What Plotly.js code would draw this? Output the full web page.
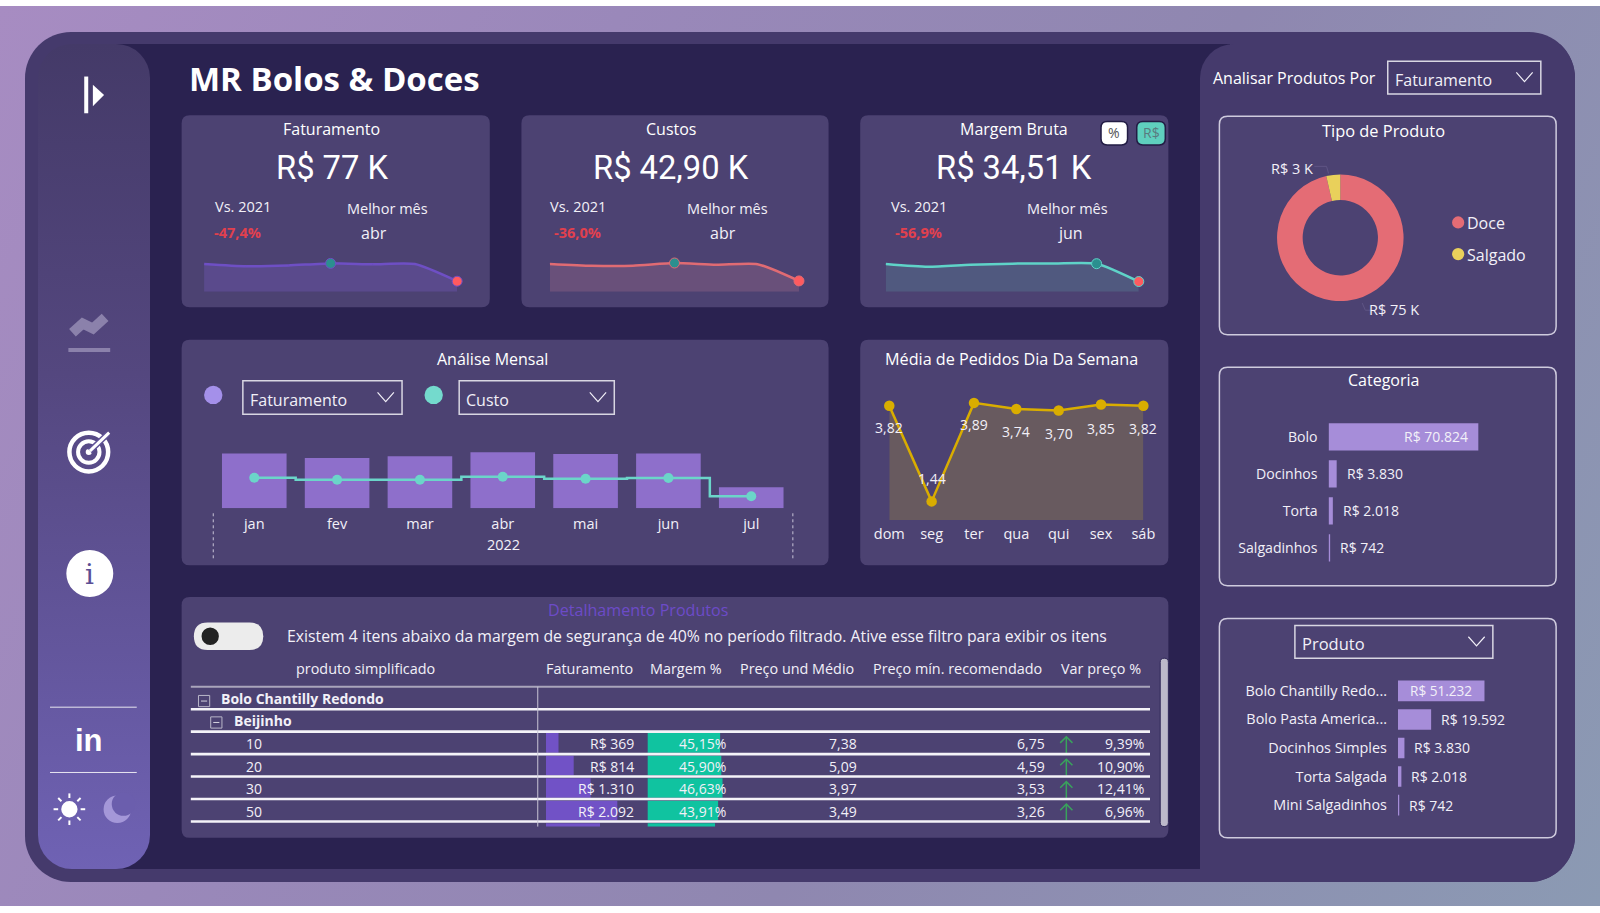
<!DOCTYPE html>
<html><head><meta charset="utf-8">
<script src="https://cdn.plot.ly/plotly-3.0.1.min.js"></script>
<style>
html,body{margin:0;padding:0;background:#fff;overflow:hidden}
#page{position:absolute;left:0;top:0;width:1600px;height:913px;overflow:hidden}
.l{position:absolute}
#bg{left:0;top:6px;width:1600px;height:900px;background:linear-gradient(118deg,#a78cc2 0%,#9a88ba 30%,#8f87b0 60%,#8b9ab3 100%)}
#frame{left:25px;top:32px;width:1550px;height:850px;border-radius:46px;background:#453a6c;overflow:hidden}
#main{left:75px;top:12px;width:1130px;height:825px;background:#2a2250}
#side{left:13px;top:12px;width:112px;height:825px;border-radius:34px;background:linear-gradient(180deg,#443a68 0%,#54477f 40%,#6f62b4 100%)}
#right{left:1175px;top:12px;width:375px;height:838px;border-radius:34px 0 0 0;background:#453a6c}
#plot{left:0;top:0;width:1600px;height:913px}
</style></head><body>
<div id="page">
<div class="l" id="bg"></div>
<div class="l" id="frame"><div class="l" id="main"></div><div class="l" id="right"></div><div class="l" id="side"></div></div>
<div class="l" id="plot"></div>
</div>
<script>
// ---------- data ----------
const months = ['jan','fev','mar','abr','mai','jun','jul'];
const faturamentoMensal = [12.3,11.3,11.7,12.6,12.2,12.3,4.7];
const custoMensal = [6.85,6.4,6.4,7.07,6.63,6.78,2.68];
const margemMensal = [5.45,4.9,5.3,5.53,5.57,5.52,2.02];
const diasSemana = ['dom','seg','ter','qua','qui','sex','sáb'];
const mediaPedidos = [3.82,1.44,3.89,3.74,3.70,3.85,3.82];
const mediaLabels = ['3,82','1,44','3,89','3,74','3,70','3,85','3,82'];
const tipoLabels = ['Doce','Salgado'];
const tipoValues = [74654,2760];
const categorias = ['Bolo','Docinhos','Torta','Salgadinhos'];
const categoriaValues = [70824,3830,2018,742];
const categoriaTexts = ['R$ 70.824','R$ 3.830','R$ 2.018','R$ 742'];
const produtos = ['Bolo Chantilly Redo...','Bolo Pasta America...','Docinhos Simples','Torta Salgada','Mini Salgadinhos'];
const produtoValues = [51232,19592,3830,2018,742];
const produtoTexts = ['R$ 51.232','R$ 19.592','R$ 3.830','R$ 2.018','R$ 742'];
const tabelaHeaders = ['produto simplificado','Faturamento','Margem %','Preço und Médio','Preço mín. recomendado','Var preço %'];
const tabelaRows = ['10','20','30','50'];
const tabelaFat = [369,814,1310,2092,1585];
const tabelaFatText = ['R$ 369','R$ 814','R$ 1.310','R$ 2.092'];
const tabelaMargem = [45.15,45.90,46.63,43.91,42.0];
const tabelaMargemText = ['45,15%','45,90%','46,63%','43,91%'];
const tabelaPreco = ['7,38','5,09','3,97','3,49'];
const tabelaMin = ['6,75','4,59','3,53','3,26'];
const tabelaVar = ['9,39%','10,90%','12,41%','6,96%'];

// ---------- helpers (coordinates on a 1568 x 894.7 design grid) ----------
const W=1568,H=894.7;
const px=x=>x/W, py=y=>1-y/H;
const dx=(a,b)=>[px(a),px(b)], dy=(top,bot)=>[py(bot),py(top)];
const FONT='"Open Sans","Noto Sans",sans-serif';
const shapes=[],ann=[];
function T(text,x,y,size,o={}){const a=o.a||'center';const off=a=='left'?-2:(a=='right'?2:0);
  ann.push({text,x:px(x+off),y:py(y),xref:'paper',yref:'paper',showarrow:false,
  xanchor:a,yanchor:'middle',font:{size,color:o.c||'#f2f0f8',family:o.f||FONT,weight:o.w||400}});}
function rr(x0,y0,x1,y1,r){const a=px(x0),b=px(x1),c=py(y0),d=py(y1),rx=r/W,ry=r/H;
  return `M${a+rx} ${c} L${b-rx} ${c} Q${b} ${c} ${b} ${c-ry} L${b} ${d+ry} Q${b} ${d} ${b-rx} ${d} L${a+rx} ${d} Q${a} ${d} ${a} ${d+ry} L${a} ${c-ry} Q${a} ${c} ${a+rx} ${c} Z`;}
function box(x0,y0,x1,y1,r,fill,lc,lw){shapes.push({type:'path',path:rr(x0,y0,x1,y1,r),xref:'paper',yref:'paper',fillcolor:fill,line:{color:lc||'rgba(0,0,0,0)',width:lw||0},layer:'below'});}
function poly(pts,lc,lw,fill,layer){shapes.push({type:'path',path:'M'+pts.map(p=>px(p[0])+' '+py(p[1])).join(' L')+(fill?' Z':''),xref:'paper',yref:'paper',
  fillcolor:fill||'rgba(0,0,0,0)',line:{color:lc||'rgba(0,0,0,0)',width:lw||0},layer:layer||'above'});}
function circ(x,y,r,fill,lc,lw){shapes.push({type:'circle',xref:'paper',yref:'paper',x0:px(x-r),x1:px(x+r),y0:py(y+r),y1:py(y-r),fillcolor:fill,line:{color:lc||'rgba(0,0,0,0)',width:lw||0},layer:'above'});}
function line(x0,y0,x1,y1,c,w,dash){shapes.push({type:'line',xref:'paper',yref:'paper',x0:px(x0),x1:px(x1),y0:py(y0),y1:py(y1),line:{color:c,width:w,dash:dash||'solid'},layer:'above'});}
function drop(x0,y0,x1,y1,label,size){shapes.push({type:'rect',xref:'paper',yref:'paper',x0:px(x0),x1:px(x1),y0:py(y1),y1:py(y0),line:{color:'#d8d6e2',width:1.5},fillcolor:'rgba(0,0,0,0)',layer:'below'});
  T(label,x0+7,(y0+y1)/2+2,size||16,{a:'left'});
  const cx=x1-16,cy=(y0+y1)/2;poly([[cx-8,cy-5],[cx,cy+4],[cx+8,cy-5]],'#f2f0f8',1.2);}

// ---------- cards ----------
const CARD='#4c4272';
[[178,113,480,301],[511,113,812,301],[843,113,1145,301],[178,333,812,554],[843,333,1145,554],[178,585,1145,821]]
  .forEach(c=>box(c[0],c[1],c[2],c[3],8,CARD));
[[1195,114,1525,328],[1195,360,1525,574],[1195,606,1525,821]].forEach(c=>box(c[0],c[1],c[2],c[3],8,CARD,'#cfcbde',1.5));

T('<b>MR Bolos &amp; Doces</b>',185,76.5,33,{a:'left',c:'#fff'});
const KF='Roboto,"Open Sans",sans-serif';
[['Faturamento','R$ 77 K','-47,4%','abr',325,325,238.5,379.5,367,233],
 ['Custos','R$ 42,90 K','-36,0%','abr',658,658,566,712.5,709,566],
 ['Margem Bruta','R$ 34,51 K','-56,9%','jun',994,994,901,1046.5,1049,900]].forEach(k=>{
  T(k[0],k[4],126.5,16,{c:'#fff',w:500});T(k[1],k[5],165,32.7,{f:KF,c:'#fff'});
  T('Vs. 2021',k[6],202,14.5);T('Melhor mês',k[7],204,14.5);
  T('<b>'+k[2]+'</b>',k[9],228,14.5,{c:'#e2404e'});
  T(k[3],k[8],228,16,{w:500});
});
T('Análise Mensal',483,351.5,16,{c:'#fff',w:500});
T('Média de Pedidos Dia Da Semana',991,351.5,16.2,{c:'#fff',w:500});
circ(209,387,9,'#a490ea');circ(425,387,9,'#74dacd');
drop(238,373,394,406,'Faturamento');drop(450,373,602,406,'Custo');
line(209,503,209,548,'#c8c4d8',1,'dot');line(777,503,777,548,'#c8c4d8',1,'dot');
T('2022',493,534,14.5);
box(1079,119,1105,142,6,'#fff','#221c44',1.5);T('%',1092,130,14,{c:'#555'});
box(1114,119,1142,142,6,'#5fcfbe','#221c44',1.5);T('R$',1128,130,14,{c:'#5a7a80'});

// right column
T('Analisar Produtos Por',1268.5,76,16,{c:'#fff',w:500});drop(1360,60,1510,92,'Faturamento');
T('Tipo de Produto',1356,127.5,16.4,{c:'#fff',w:500});T('Categoria',1356,372.5,16,{c:'#fff',w:500});
drop(1269,613,1463,645,'Produto',16.5);
T('R$ 3 K',1266,165,14.5);T('R$ 75 K',1366,303,14.5);
poly([[1288,163],[1300,163],[1302,170]],'#5f5585',1);poly([[1346,304],[1338,304],[1335,297]],'#5f5585',1);
circ(1429,218,6,'#e46c75');circ(1429,249,6,'#e9d05b');T('Doce',1438,218.5,16,{a:'left'});T('Salgado',1438,249.5,16,{a:'left'});

// table text
T('Detalhamento Produtos',625.5,598,16.1,{c:'#6c4bc8'});
box(190,610,258,637,13.5,'#ececec');circ(206,623.5,8.5,'#222');
T('Existem 4 itens abaixo da margem de segurança de 40% no período filtrado. Ative esse filtro para exibir os itens',281,623,15.8,{a:'left'});
const headX=[358,577.5,672.5,781,938.5,1078.5];
tabelaHeaders.forEach((h,i)=>T(h,headX[i],655.5,14.4));
T('<b>Bolo Chantilly Redondo</b>',217,684.5,14,{a:'left'});T('<b>Beijinho</b>',229,706.5,14,{a:'left'});
const rowY=[729,751,773,795];
tabelaRows.forEach((r,i)=>{T(r,249,rowY[i],14);T(tabelaFatText[i],621,rowY[i],14,{a:'right'});T(tabelaMargemText[i],711,rowY[i],14,{a:'right'});
 T(tabelaPreco[i],840,rowY[i],14,{a:'right'});T(tabelaMin[i],1024,rowY[i],14,{a:'right'});T(tabelaVar[i],1121,rowY[i],14,{a:'right'});
 const a=1045,y=rowY[i];poly([[a,y+9],[a,y-7]],'#39a35c',1.5);poly([[a-6,y-1],[a,y-7],[a+6,y-1]],'#39a35c',1.5);});
line(187,673,1127,673,'#a9a5bb',2);
[695,717,739,761,783,805].forEach(y=>line(187,y,1127,y,'#f4f3f8',2.6));
line(527,673,527,810,'#c8c5d6',1);
[[200,687],[212,708]].forEach(p=>{shapes.push({type:'rect',xref:'paper',yref:'paper',x0:px(p[0]-5.5),x1:px(p[0]+5.5),y0:py(p[1]+5.5),y1:py(p[1]-5.5),line:{color:'#b9b6c8',width:1},fillcolor:'rgba(0,0,0,0)',layer:'above'});line(p[0]-3,p[1],p[0]+3,p[1],'#d5d3e0',1);});
box(1137,645,1145,810,4,'#bcb9ca','#2f2757',1);

// sidebar icons
line(84.5,75,84.5,111,'#fff',4);poly([[91,83],[102,93],[91,104]],'#fff',0,'#fff');
poly([[71,326],[81,317],[91,322],[103,311]],'#8b81ab',10);line(67,343,108,343,'#8b81ab',4);
circ(87,443,19,'rgba(0,0,0,0)','#fff',4.5);circ(87,443,10.5,'rgba(0,0,0,0)','#fff',4);circ(87,443,3,'#fff');
line(88,442,106,425,'#5f5296',6);line(88,442,107,424,'#fff',3);
circ(88,562,23,'#fff');T('i',88,563,28,{c:'#5b4e95',f:'"DejaVu Serif",serif'});
line(49,693,134,693,'#e8e6f0',1);line(49,757,134,757,'#e8e6f0',1);
T('<b>in</b>',87,726,31,{c:'#fff',f:'"Liberation Sans",sans-serif'});
circ(68,793,8,'#fff');
[0,45,90,135,180,225,270,315].forEach(d=>{const r=d*Math.PI/180,c=Math.cos(r),s=Math.sin(r);line(68+11*c,793+11*s,68+15.5*c,793+15.5*s,'#fff',2);});
circ(115,793,13.5,'#a497d8');circ(121,788,11.5,'#6b5ead');

// ---------- traces ----------
const axHide={visible:false,showgrid:false,zeroline:false,fixedrange:true};
const sparkStyle=(color,fill,x,y)=>({type:'scatter',mode:'lines+markers',x:months,y:null,xaxis:x,yaxis:y,fill:'tozeroy',fillcolor:fill,cliponaxis:false,
  line:{color,width:2.5,shape:'spline',smoothing:0.6},marker:{size:null,color:null,opacity:1}});
function spark(vals,color,fill,x,y,best){const t=sparkStyle(color,fill,x,y);t.y=vals;
  t.marker.size=vals.map((v,i)=>(i==best||i==vals.length-1)?10:0.1);
  t.marker.color=vals.map((v,i)=>i==best?'#2b8f8f':(i==vals.length-1?'#ff5a5f':color));return t;}
const data=[
 spark(faturamentoMensal,'#6e4fc4','#5a4a8c','x','y',3),
 spark(custoMensal,'#e06b73','#69507a','x2','y2',3),
 spark(margemMensal,'#5fd3c8','#50597f','x3','y3',5),
 {type:'bar',x:months,y:faturamentoMensal,xaxis:'x4',yaxis:'y4',marker:{color:'#8e6fcb'},width:0.78},
 {type:'scatter',mode:'lines+markers',x:months,y:custoMensal,xaxis:'x4',yaxis:'y4',line:{color:'#6bd5c9',width:2.5,shape:'hvh'},marker:{size:10,color:'#6bd5c9'}},
 {type:'scatter',mode:'lines+markers',x:diasSemana,y:mediaPedidos,xaxis:'x5',yaxis:'y5',fill:'tozeroy',fillcolor:'#685a5f',cliponaxis:false,line:{color:'#d9ad00',width:2.5},marker:{size:10.5,color:'#d9ad00'}},
 {type:'pie',labels:tipoLabels,values:tipoValues,hole:0.595,sort:false,direction:'clockwise',rotation:0,textinfo:'none',showlegend:false,
  marker:{colors:['#e46c75','#e9d05b'],line:{width:0}},domain:{x:dx(1251.5,1375.5),y:dy(171,295)}},
 {type:'bar',orientation:'h',y:categorias,x:categoriaValues,xaxis:'x6',yaxis:'y6',marker:{color:'#a68dd9'},width:0.74},
 {type:'bar',orientation:'h',y:produtos,x:produtoValues,xaxis:'x7',yaxis:'y7',marker:{color:'#a68dd9'},width:0.72},
 {type:'bar',orientation:'h',y:[0,1,2,3,4],x:tabelaFat,xaxis:'x8',yaxis:'y8',marker:{color:'#7152c6'},width:0.87},
 {type:'bar',orientation:'h',y:[0,1,2,3,4],x:tabelaMargem,xaxis:'x9',yaxis:'y8',marker:{color:'#10c3a0'},width:0.87},
];
mediaLabels.forEach((t,i)=>ann.push({text:t,x:diasSemana[i],y:mediaPedidos[i],xref:'x5',yref:'y5',showarrow:false,yshift:[-22,23,-22,-23,-23,-24,-23][i],xanchor:'center',yanchor:'middle',font:{size:14,color:'#f2f0f8'}}));
categoriaTexts.forEach((t,i)=>ann.push({text:t,x:categoriaValues[i],y:categorias[i],xref:'x6',yref:'y6',showarrow:false,xanchor:i==0?'right':'left',xshift:i==0?-9:8,yanchor:'middle',font:{size:14,color:'#f2f0f8'}}));
produtoTexts.forEach((t,i)=>ann.push({text:t,x:produtoValues[i],y:produtos[i],xref:'x7',yref:'y7',showarrow:false,xanchor:i==0?'right':'left',xshift:i==0?-11:8,yanchor:'middle',font:{size:i==0?13.6:14,color:'#f2f0f8'}}));

const tick=(o,s)=>Object.assign({showgrid:false,zeroline:false,showline:false,ticks:'',fixedrange:true,color:'#f2f0f8',tickfont:{size:s||14.5,color:'#f2f0f8'}},o);
const layout={
 width:1600,height:913,margin:{l:0,r:0,t:0,b:0},paper_bgcolor:'rgba(0,0,0,0)',plot_bgcolor:'rgba(0,0,0,0)',
 font:{family:FONT,color:'#f2f0f8'},showlegend:false,hovermode:false,barmode:'overlay',shapes,annotations:ann,
 xaxis:Object.assign({},axHide,{domain:dx(200,448),range:[0,6],type:'category',anchor:'y'}),
 yaxis:Object.assign({},axHide,{domain:dy(255,286),range:[0,14],anchor:'x'}),
 xaxis2:Object.assign({},axHide,{domain:dx(539,783),range:[0,6],type:'category',anchor:'y2'}),
 yaxis2:Object.assign({},axHide,{domain:dy(254,286),range:[0,8],anchor:'x2'}),
 xaxis3:Object.assign({},axHide,{domain:dx(868,1116),range:[0,6],type:'category',anchor:'y3'}),
 yaxis3:Object.assign({},axHide,{domain:dy(254,286),range:[0,6.4],anchor:'x3'}),
 xaxis4:tick({domain:dx(208.6,776.8),range:[-0.5,6.5],type:'category',anchor:'y4',ticklabelstandoff:5}),
 yaxis4:Object.assign({},axHide,{domain:dy(437,498),range:[0,14],anchor:'x4'}),
 xaxis5:tick({domain:dx(871.5,1120.5),range:[0,6],type:'category',anchor:'y5',ticklabelstandoff:3}),
 yaxis5:Object.assign({},axHide,{domain:dy(382.6,509.6),range:[0.976,4.2],anchor:'x5'}),
 xaxis6:Object.assign({},axHide,{domain:dx(1302,1449),range:[0,70824],anchor:'y6'}),
 yaxis6:tick({domain:dy(410,555),range:[3.5,-0.5],type:'category',anchor:'x6',ticklabelstandoff:10},14.1),
 xaxis7:Object.assign({},axHide,{domain:dx(1370,1455),range:[0,51232],anchor:'y7'}),
 yaxis7:tick({domain:dy(663,803),range:[4.5,-0.5],type:'category',anchor:'x7',ticklabelstandoff:10},14.4),
 xaxis8:Object.assign({},axHide,{domain:dx(535,635),range:[0,2990],anchor:'y8'}),
 yaxis8:Object.assign({},axHide,{domain:dy(717,810),range:[3.71,-0.498],anchor:'x8'}),
 xaxis9:Object.assign({},axHide,{domain:dx(634.5,734.5),range:[0,63.4],anchor:'y8'}),
};
Plotly.newPlot('plot',data,layout,{displayModeBar:false,staticPlot:true});
</script></body></html>
